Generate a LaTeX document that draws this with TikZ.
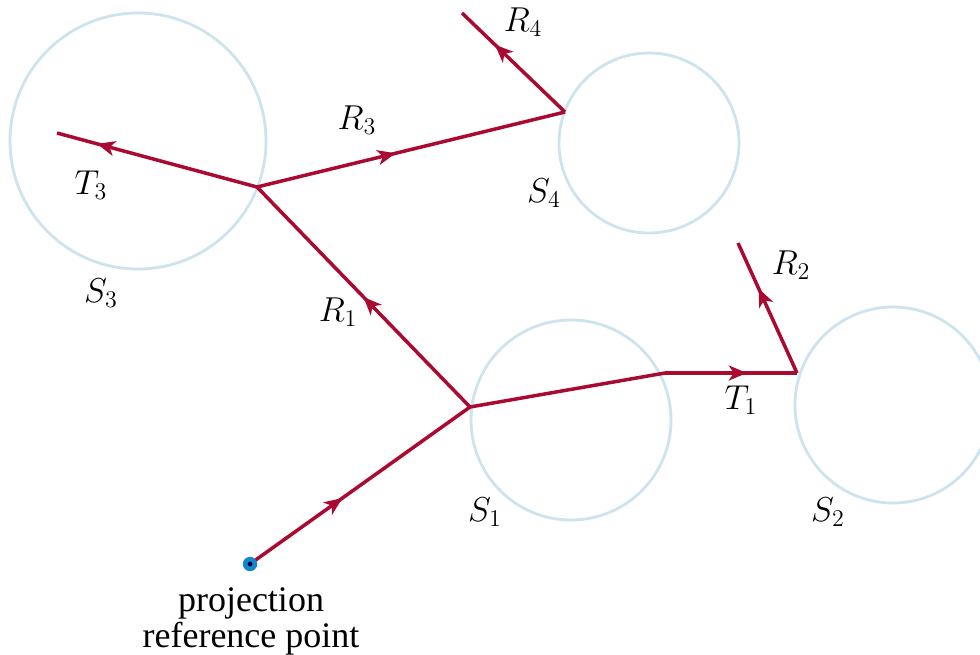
\documentclass[tikz,border=0pt]{standalone}
\usepackage{amsmath}
\usepackage{fontspec}
\usepackage{tikz}
\usetikzlibrary{arrows.meta,decorations.markings}

\newfontfamily\labelfont{Liberation Serif}

\definecolor{raycol}{RGB}{170,10,50}
\definecolor{spherecol}{RGB}{205,228,238}
\definecolor{dotcol}{RGB}{20,135,200}

\tikzset{
    ray/.style={raycol, line width=1.75pt, line join=miter},
    flowarrow/.style={postaction={decorate, decoration={markings,
        mark=at position #1 with {\arrow{Stealth[length=9pt,width=7.5pt,inset=2.5pt]}}}}},
    sphere/.style={circle, draw=spherecol, line width=1.4pt, inner sep=0pt, minimum size=#1},
    lbl/.style={font=\fontsize{18}{20}\selectfont}
}

\begin{document}
\begin{tikzpicture}[x=0.5pt,y=-0.5pt]
        \useasboundingbox (0,0) rectangle (980,654);
        % spheres
        \node[sphere=100pt] (s1) at (571,420) {};
        \node[sphere=98pt] (s2) at (893,405) {};
        \node[sphere=128pt] (s3) at (138,141) {};
        \node[sphere=90pt] (s4) at (649,143) {};
        % ray points
        \coordinate (p) at (250,564);
        \coordinate (h1) at (470,407);
        \coordinate (b1) at (665,373);
        \coordinate (h2) at (797,373);
        \coordinate (e2) at (738,243);
        \coordinate (h3) at (257,187);
        \coordinate (e3) at (57,133);
        \coordinate (h4) at (565,112);
        \coordinate (e4) at (462,13);
        % rays
        \draw[ray, flowarrow=0.42] (p) -- (h1);
        \draw[ray, flowarrow=0.5] (h1) -- (h3);
        \draw[ray] (h1) -- (b1);
        \draw[ray, flowarrow=0.62] (b1) -- (h2);
        \draw[ray, flowarrow=0.65] (h2) -- (e2);
        \draw[ray, flowarrow=0.8] (h3) -- (e3);
        \draw[ray, flowarrow=0.45] (h3) -- (h4);
        \draw[ray, flowarrow=0.68] (h4) -- (e4);
        % reference point
        \fill[dotcol] (p) circle (3.6pt);
        \fill[black!70!blue] (p) circle (1.2pt);
        % labels
        \node[lbl] (ls1) at (485,512) {$S_1$};
        \node[lbl] (ls2) at (828,512) {$S_2$};
        \node[lbl] (ls3) at (101,293) {$S_3$};
        \node[lbl] (ls4) at (544,193) {$S_4$};
        \node[lbl] (lr1) at (338,312) {$R_1$};
        \node[lbl] (lr2) at (791,265) {$R_2$};
        \node[lbl] (lr3) at (357,120) {$R_3$};
        \node[lbl] (lr4) at (523,22) {$R_4$};
        \node[lbl] (lt1) at (741,400) {$T_1$};
        \node[lbl] (lt3) at (91,185) {$T_3$};
        \node[align=center, font=\labelfont\fontsize{18}{18}\selectfont] (lp) at (251,621) {projection\\reference point};
    \end{tikzpicture}
\end{document}
